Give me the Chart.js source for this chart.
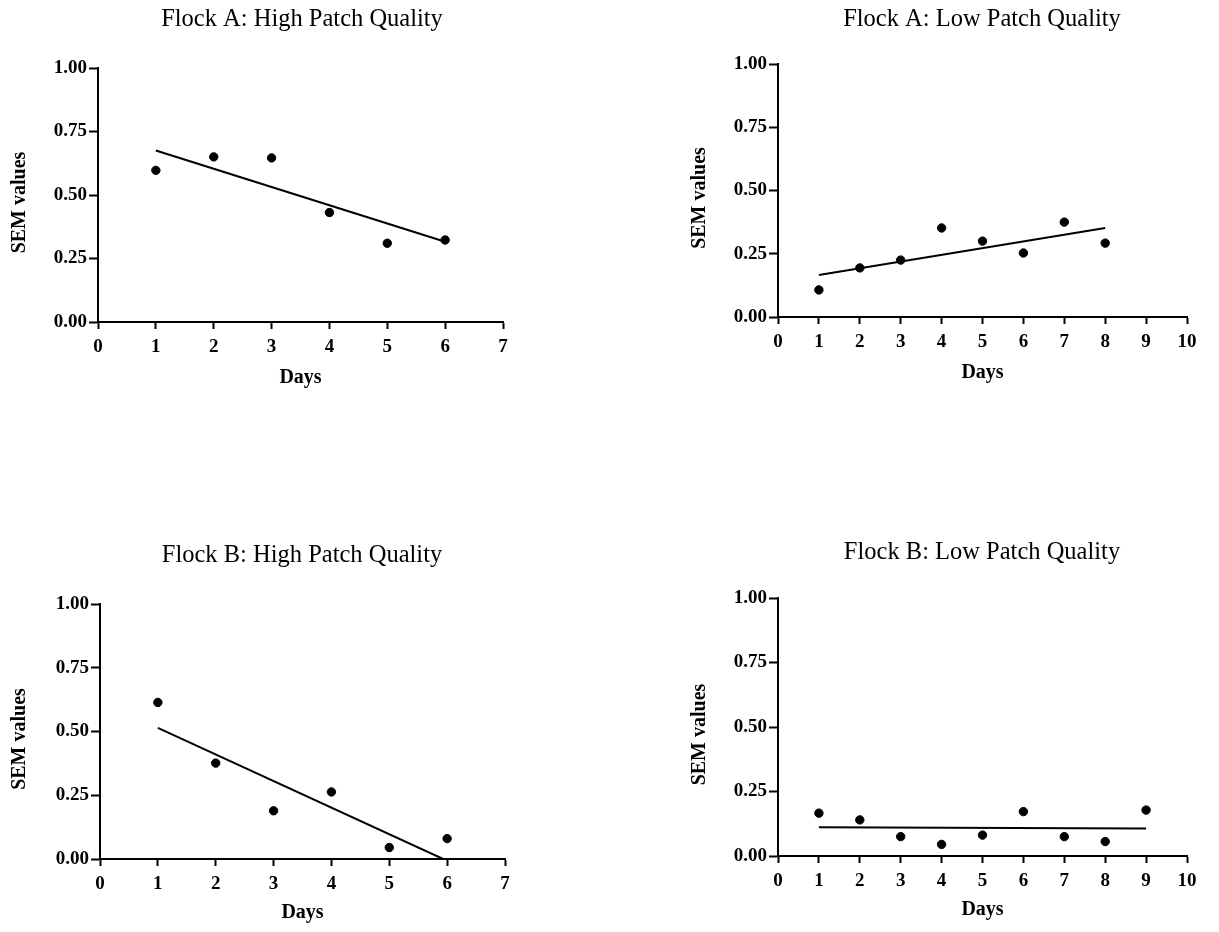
<!DOCTYPE html>
<html>
<head>
<meta charset="utf-8">
<script src="https://cdn.jsdelivr.net/npm/chart.js@4/dist/chart.umd.min.js"></script>
<style>
  html, body { margin:0; padding:0; background:#fff; width:1219px; height:932px; overflow:hidden; }
  canvas { position:absolute; }
</style>
</head>
<body>
<canvas id="c1"></canvas>
<canvas id="c2"></canvas>
<canvas id="c3"></canvas>
<canvas id="c4"></canvas>
<script>
// ---- Data ----
const titles = ["Flock A: High Patch Quality", "Flock A: Low Patch Quality", "Flock B: High Patch Quality", "Flock B: Low Patch Quality"];
const xTitle = "Days";
const yTitle = "SEM values   ";

const daysAHigh = [1, 2, 3, 4, 5, 6];
const semAHigh  = [0.597, 0.650, 0.646, 0.431, 0.310, 0.323];
const fitXAHigh = [1, 6];
const fitYAHigh = [0.675, 0.316];

const daysALow = [1, 2, 3, 4, 5, 6, 7, 8];
const semALow  = [0.107, 0.194, 0.225, 0.352, 0.300, 0.253, 0.375, 0.292];
const fitXALow = [1, 8];
const fitYALow = [0.166, 0.352];

const daysBHigh = [1, 2, 3, 4, 5, 6];
const semBHigh  = [0.614, 0.376, 0.189, 0.263, 0.045, 0.080];
const fitXBHigh = [1, 5.93];
const fitYBHigh = [0.514, 0.0];

const daysBLow = [1, 2, 3, 4, 5, 6, 7, 8, 9];
const semBLow  = [0.166, 0.140, 0.075, 0.045, 0.081, 0.172, 0.075, 0.056, 0.178];
const fitXBLow = [1, 9];
const fitYBLow = [0.111, 0.107];

const xMaxes = [7, 10, 7, 10];
const yTicks = [0, 0.25, 0.5, 0.75, 1.0];

// ---- Layout (pixels) ----
const panels = [
  {id:'c1', cx:0,   cy:0,   cw:604, ch:400, pl:98,  pt:68,  pr:503,  pb:322, titleY:20,  yTitleX:20,  xTitleY:378},
  {id:'c2', cx:680, cy:0,   cw:604, ch:400, pl:778, pt:64,  pr:1187, pb:317, titleY:20,  yTitleX:700, xTitleY:373},
  {id:'c3', cx:0,   cy:530, cw:604, ch:400, pl:100, pt:604, pr:505,  pb:859, titleY:556, yTitleX:20,  xTitleY:913},
  {id:'c4', cx:680, cy:530, cw:604, ch:400, pl:778, pt:598, pr:1187, pb:856, titleY:553, yTitleX:700, xTitleY:910}
];
const seriesX = [daysAHigh, daysALow, daysBHigh, daysBLow];
const seriesY = [semAHigh, semALow, semBHigh, semBLow];
const fitsX = [fitXAHigh, fitXALow, fitXBHigh, fitXBLow];
const fitsY = [fitYAHigh, fitYALow, fitYBHigh, fitYBLow];

const FAMILY = "'Liberation Serif', 'Times New Roman', serif";
const titleFont = {family: FAMILY, size: 24.5, weight: 'normal', lineHeight: 1.2};
const axisTitleFont = {family: FAMILY, size: 20, weight: 'bold', lineHeight: 1.2};
const tickFont = {family: FAMILY, size: 19, weight: 'bold', lineHeight: 1.2};

panels.forEach((p, i) => {
  const cv = document.getElementById(p.id);
  cv.width = p.cw; cv.height = p.ch;
  cv.style.left = p.cx + 'px'; cv.style.top = p.cy + 'px';
  cv.style.width = p.cw + 'px'; cv.style.height = p.ch + 'px';

  const tLH = titleFont.size * titleFont.lineHeight;
  const tPadTop = p.titleY - p.cy - tLH / 2;
  const tPadBottom = (p.pt - p.cy) - tLH - tPadTop;
  const aLH = axisTitleFont.size * axisTitleFont.lineHeight;
  const yTitlePad = p.yTitleX - p.cx - aLH / 2;
  const xTitlePad = (p.cy + p.ch) - p.xTitleY - aLH / 2;
  const rightSpace = (p.cx + p.cw) - p.pr;

  const pts = seriesX[i].map((x, k) => ({x: x, y: seriesY[i][k]}));
  const fit = fitsX[i].map((x, k) => ({x: x, y: fitsY[i][k]}));

  new Chart(cv, {
    type: 'scatter',
    data: {
      datasets: [
        {data: fit, showLine: true, borderColor: '#000', borderWidth: 2, pointRadius: 0, fill: false},
        {data: pts, showLine: false, backgroundColor: '#000', borderColor: '#000', pointRadius: 4.2, pointHoverRadius: 4.2}
      ]
    },
    options: {
      responsive: false,
      animation: false,
      devicePixelRatio: 1,
      layout: {padding: 0},
      plugins: {
        legend: {display: false},
        tooltip: {enabled: false},
        title: {display: true, text: titles[i], color: '#000', font: titleFont,
                padding: {top: tPadTop, bottom: tPadBottom}}
      },
      scales: {
        x: {
          type: 'linear', min: 0, max: xMaxes[i],
          afterFit: (s) => { s.height = (p.cy + p.ch) - p.pb; },
          border: {display: true, color: '#000', width: 2},
          grid: {display: true, drawOnChartArea: false, drawTicks: true, tickLength: 7, tickColor: '#000', tickWidth: 2, color: '#000'},
          ticks: {stepSize: 1, color: '#000', font: tickFont, padding: 7, maxRotation: 0, autoSkip: false},
          title: {display: true, text: xTitle, color: '#000', font: axisTitleFont, padding: {top: 0, bottom: xTitlePad}}
        },
        y: {
          type: 'linear', min: 0, max: 1,
          afterFit: (s) => { s.width = p.pl - p.cx; },
          afterBuildTicks: (s) => { s.ticks = yTicks.map(v => ({value: v})); },
          border: {display: true, color: '#000', width: 2},
          grid: {display: true, drawOnChartArea: false, drawTicks: true, tickLength: 9, tickColor: '#000', tickWidth: 2, color: '#000'},
          ticks: {color: '#000', font: tickFont, padding: 2, callback: (v) => Number(v).toFixed(2)},
          title: {display: true, text: yTitle, color: '#000', font: axisTitleFont, padding: {top: yTitlePad, bottom: 0}}
        },
        spacer: {
          type: 'linear', position: 'right', display: true, min: 0, max: 1,
          afterFit: (s) => { s.width = rightSpace; },
          border: {display: false},
          grid: {display: false},
          ticks: {display: false},
          title: {display: false}
        }
      }
    }
  });
});
</script>
</body>
</html>
